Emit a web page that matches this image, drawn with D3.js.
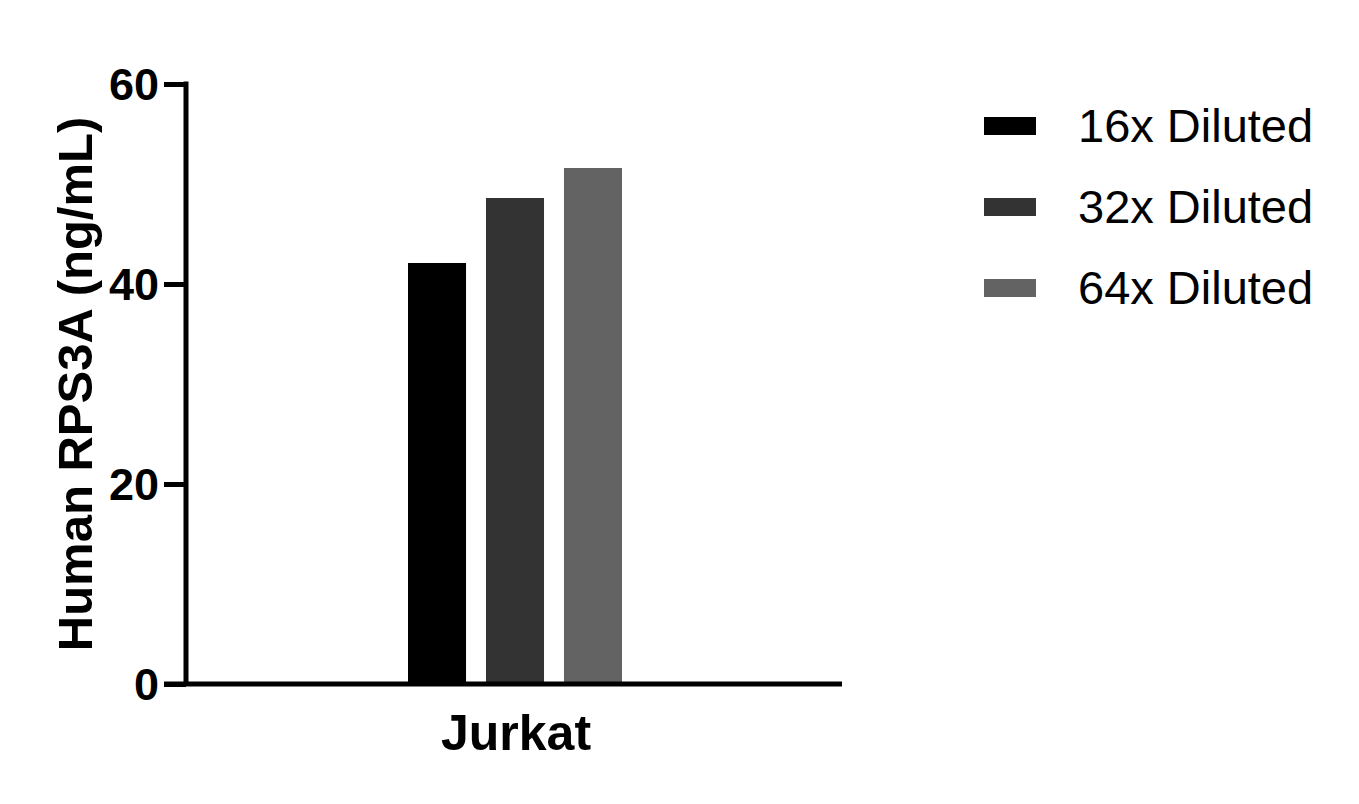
<!DOCTYPE html>
<html>
<head>
<meta charset="utf-8">
<script src="https://cdn.jsdelivr.net/npm/d3@7"></script>
<style>
  body { margin: 0; background: #fff; }
  text { font-family: "Liberation Sans", Arial, sans-serif; }
</style>
</head>
<body>
<div id="plot"></div>
<script>
// data
const categories = ["Jurkat"];
const series = ["16x Diluted", "32x Diluted", "64x Diluted"];
const values = [42.1, 48.6, 51.6];
const colors = ["#000000", "#333333", "#636363"];
const yTicks = [0, 20, 40, 60];

const FRAME_WIDTH = 1359;
const FRAME_HEIGHT = 804;

const svg = d3.select("#plot")
  .append("svg")
    .attr("width", FRAME_WIDTH)
    .attr("height", FRAME_HEIGHT);

// scales
const y = d3.scaleLinear().domain([0, 60]).range([684, 84]);
const xCat = d3.scaleBand().domain(categories).range([187, 842]);
const xSeries = d3.scaleBand().domain(series)
  .range([408, 622]).paddingInner(0.256);

// bars
svg.selectAll(".bar")
  .data(values)
  .enter()
  .append("rect")
    .attr("class", "bar")
    .attr("x", (d, i) => xSeries(series[i]))
    .attr("y", d => y(d))
    .attr("width", xSeries.bandwidth())
    .attr("height", d => y(0) - y(d))
    .attr("fill", (d, i) => colors[i]);

// y axis
const yAxis = svg.append("g")
  .attr("transform", "translate(186,0)")
  .call(d3.axisLeft(y).tickValues(yTicks).tickSize(22).tickPadding(5));
yAxis.select(".domain").remove();
yAxis.selectAll(".tick line").attr("stroke", "#000").attr("stroke-width", 5);
yAxis.selectAll(".tick text")
  .attr("font-size", 45)
  .attr("font-weight", "bold")
  .attr("fill", "#000")
  .attr("dy", "0.35em")
  .attr("font-family", "Liberation Sans, Arial, sans-serif");

svg.append("line")
  .attr("x1", 186).attr("x2", 186)
  .attr("y1", y(60) - 2.5).attr("y2", y(0))
  .attr("stroke", "#000").attr("stroke-width", 5);

// x axis
svg.append("line")
  .attr("x1", 164).attr("x2", 842)
  .attr("y1", y(0)).attr("y2", y(0))
  .attr("stroke", "#000").attr("stroke-width", 5);

svg.selectAll(".xlabel")
  .data(categories)
  .enter()
  .append("text")
    .attr("class", "xlabel")
    .attr("x", d => 516)
    .attr("y", 750)
    .attr("text-anchor", "middle")
    .attr("font-size", 50)
    .attr("font-weight", "bold")
    .text(d => d);

// y title
svg.append("text")
  .attr("transform", "translate(92,384) rotate(-90)")
  .attr("text-anchor", "middle")
  .attr("font-size", 49)
  .attr("font-weight", "bold")
  .text("Human RPS3A (ng/mL)");

// legend
const legend = svg.selectAll(".legend")
  .data(series)
  .enter()
  .append("g")
    .attr("class", "legend")
    .attr("transform", (d, i) => "translate(984," + (126 + i * 81) + ")");

legend.append("rect")
  .attr("x", 0).attr("y", -9)
  .attr("width", 52).attr("height", 18)
  .attr("fill", (d, i) => colors[i]);

legend.append("text")
  .attr("x", 94).attr("y", 16)
  .attr("font-size", 47)
  .text(d => d);
</script>
</body>
</html>
